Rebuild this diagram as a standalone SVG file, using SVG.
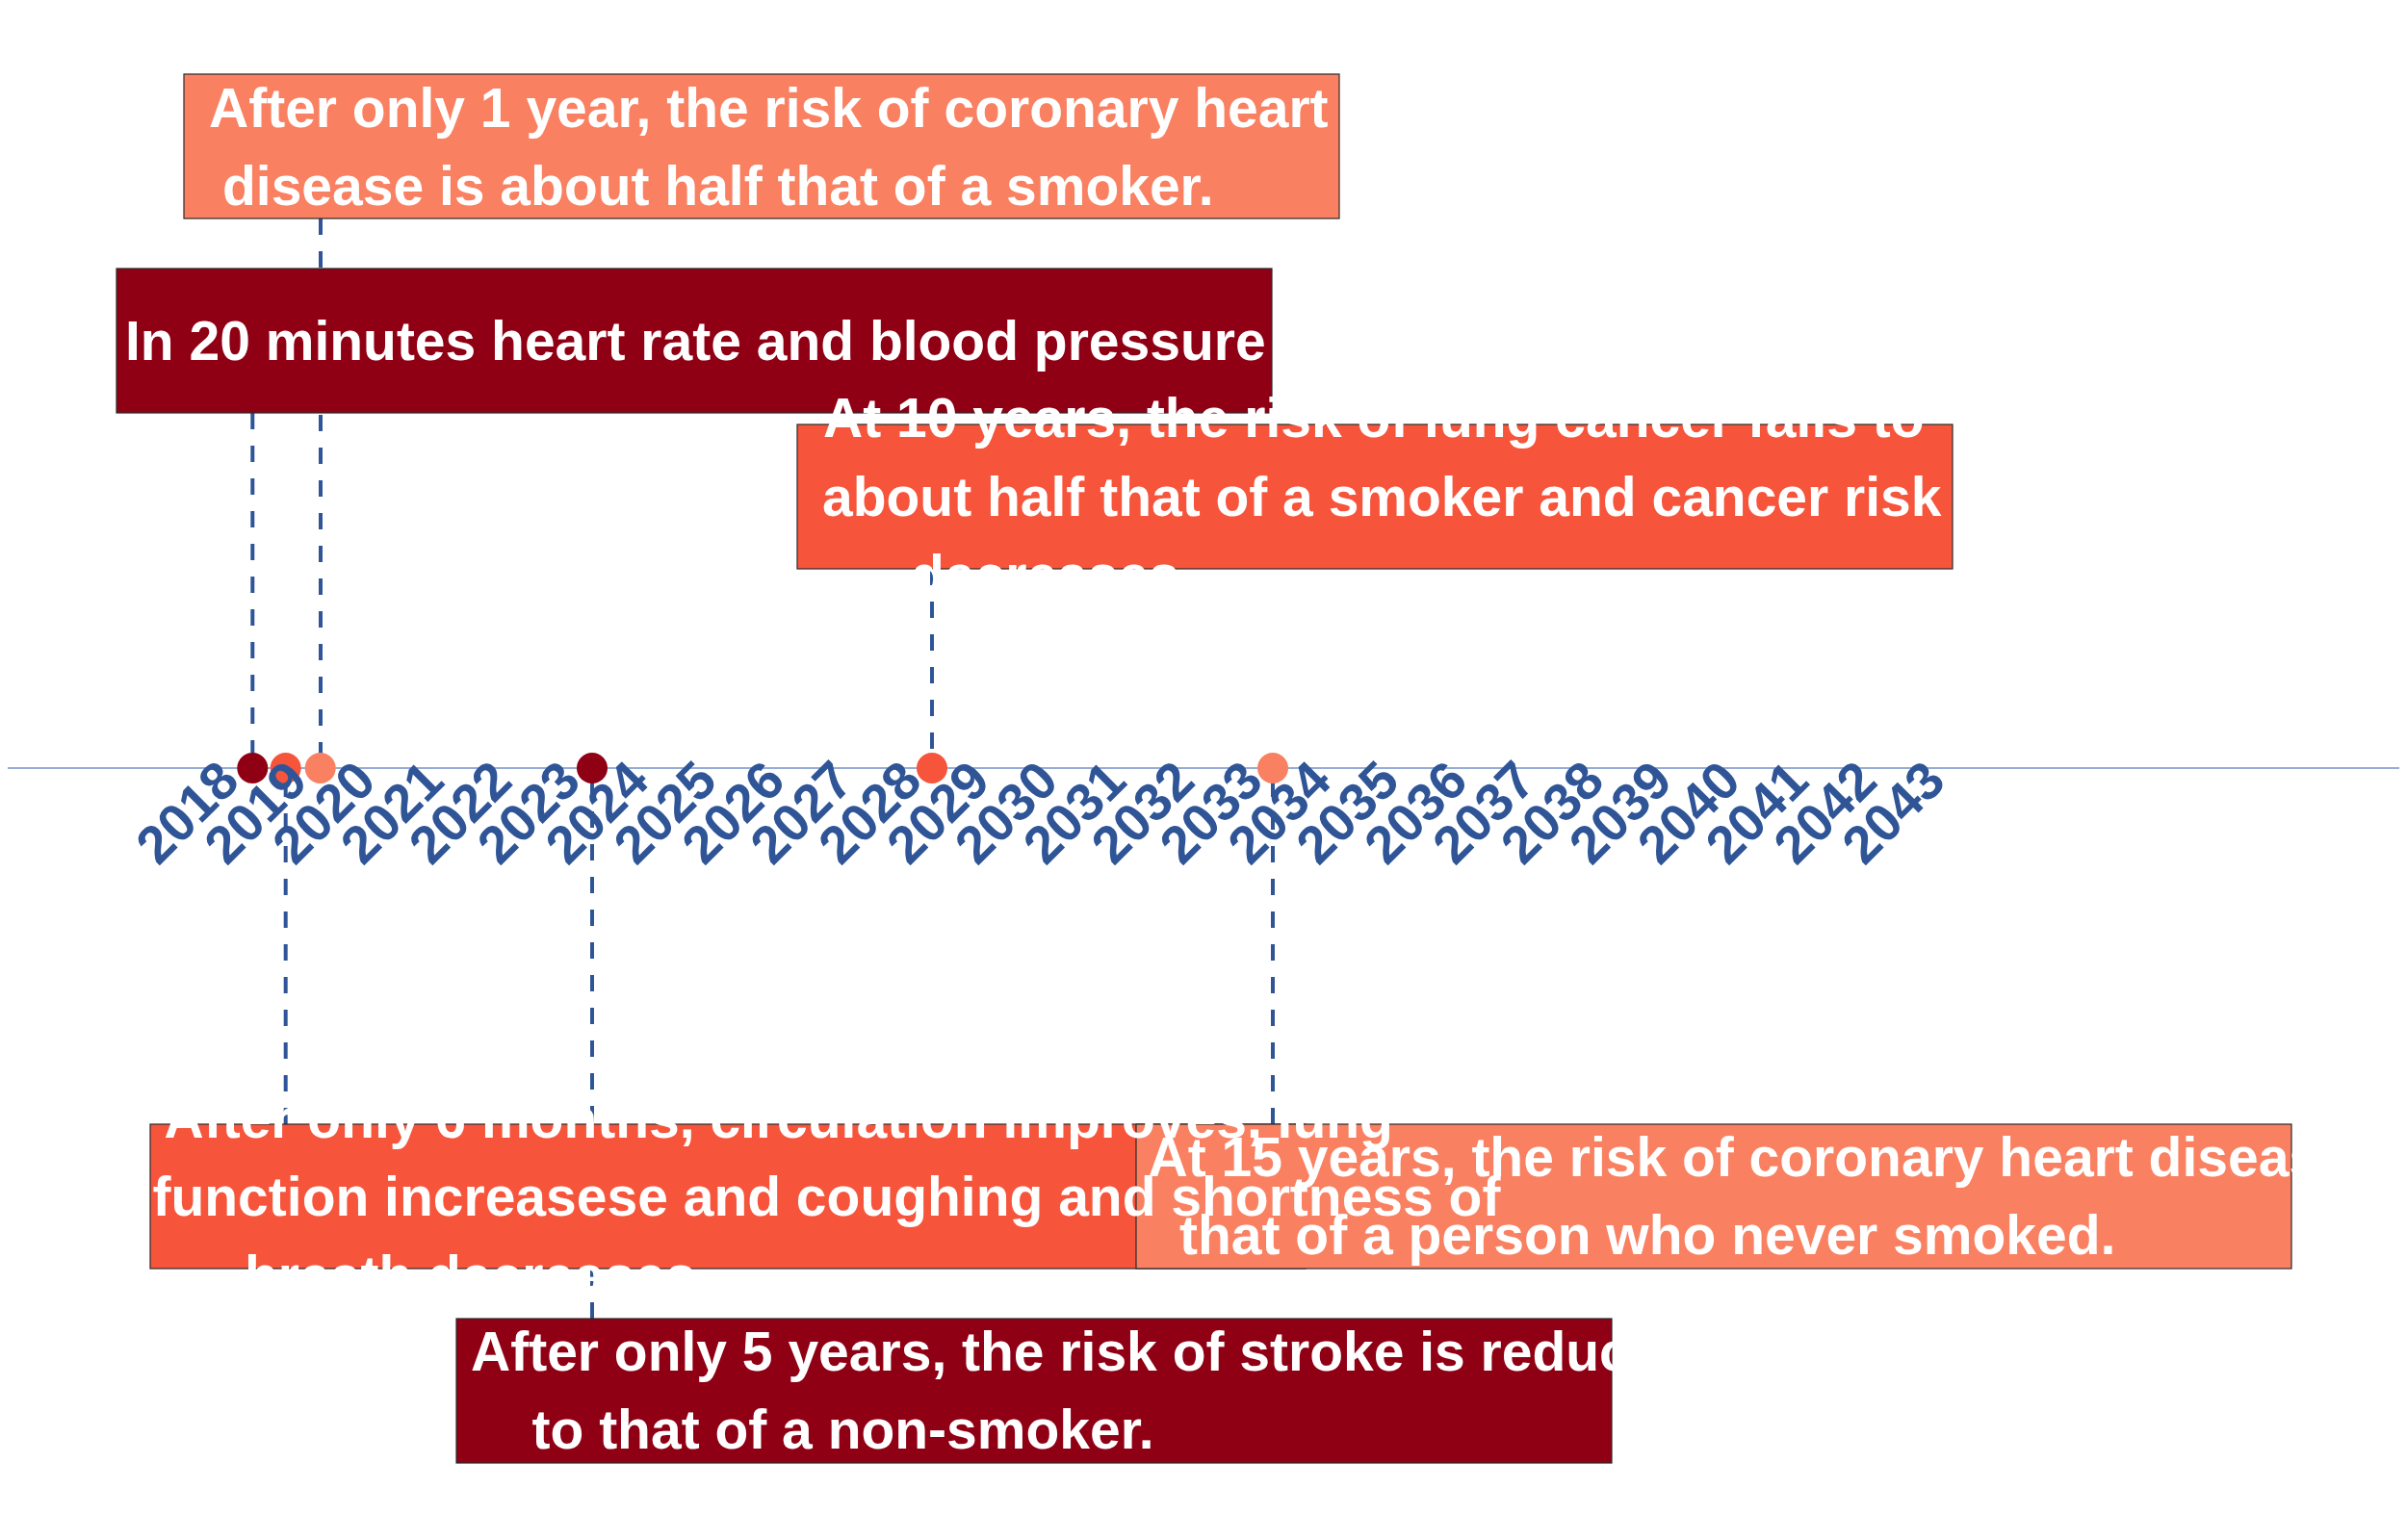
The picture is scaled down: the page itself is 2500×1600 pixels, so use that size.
<svg xmlns="http://www.w3.org/2000/svg" width="2500" height="1600" viewBox="0 0 2500 1600">
<style>
.box{stroke:#2a2a2a;stroke-width:1.2}
.dark{fill:#900014}
.orange{fill:#F6553C}
.salmon{fill:#F98162}
.conn{stroke:#2F5597;stroke-width:4;stroke-dasharray:17 17;fill:none}
.yr{font-family:"Liberation Sans",Arial,sans-serif;font-weight:bold;font-size:55px;fill:#2F5597;text-anchor:end}
.t{font-family:"Liberation Sans",Arial,sans-serif;font-weight:bold;font-size:57px;fill:#ffffff}
</style>
<rect width="2500" height="1600" fill="#ffffff"/>
<g id="connectors">
<path class="conn" d="M262.3,429 V798"/>
<path class="conn" d="M333,227 V798"/>
<path class="conn" d="M968,591 V798"/>
<path class="conn" d="M296.7,1168 V798"/>
<path class="conn" d="M615,1370 V798"/>
<path class="conn" d="M1322,1168 V798"/>
</g>
<g id="timeline">
<line x1="8" y1="798" x2="2492" y2="798" stroke="#7090C8" stroke-width="1.5"/>
</g>
<g id="node-1year"><rect class="box salmon" x="191" y="77" width="1200" height="150"/></g>
<g id="node-20min"><rect class="box dark" x="121" y="279" width="1200" height="150"/></g>
<g id="node-10years"><rect class="box orange" x="828" y="441" width="1200" height="150"/></g>
<g id="node-6months"><rect class="box orange" x="156" y="1168" width="1200" height="150"/></g>
<g id="node-15years"><rect class="box salmon" x="1180" y="1168" width="1200" height="150"/></g>
<g id="node-5years"><rect class="box dark" x="474" y="1370" width="1200" height="150"/></g>
<g id="dots">
<circle class="dark" cx="262.3" cy="798" r="16"/>
<circle class="orange" cx="296.7" cy="798" r="16"/>
<circle class="salmon" cx="332.7" cy="798" r="16"/>
<circle class="dark" cx="615" cy="798" r="16"/>
<circle class="orange" cx="968" cy="798" r="16"/>
<circle class="salmon" cx="1322" cy="798" r="16"/>
</g>
<g id="axis-labels">
<text class="yr" transform="translate(251,814) rotate(-45)">2018</text>
<text class="yr" transform="translate(321.9,814) rotate(-45)">2019</text>
<text class="yr" transform="translate(392.8,814) rotate(-45)">2020</text>
<text class="yr" transform="translate(463.6,814) rotate(-45)">2021</text>
<text class="yr" transform="translate(534.5,814) rotate(-45)">2022</text>
<text class="yr" transform="translate(605.4,814) rotate(-45)">2023</text>
<text class="yr" transform="translate(676.3,814) rotate(-45)">2024</text>
<text class="yr" transform="translate(747.2,814) rotate(-45)">2025</text>
<text class="yr" transform="translate(818,814) rotate(-45)">2026</text>
<text class="yr" transform="translate(888.9,814) rotate(-45)">2027</text>
<text class="yr" transform="translate(959.8,814) rotate(-45)">2028</text>
<text class="yr" transform="translate(1030.7,814) rotate(-45)">2029</text>
<text class="yr" transform="translate(1101.6,814) rotate(-45)">2030</text>
<text class="yr" transform="translate(1172.4,814) rotate(-45)">2031</text>
<text class="yr" transform="translate(1243.3,814) rotate(-45)">2032</text>
<text class="yr" transform="translate(1314.2,814) rotate(-45)">2033</text>
<text class="yr" transform="translate(1385.1,814) rotate(-45)">2034</text>
<text class="yr" transform="translate(1456,814) rotate(-45)">2035</text>
<text class="yr" transform="translate(1526.8,814) rotate(-45)">2036</text>
<text class="yr" transform="translate(1597.7,814) rotate(-45)">2037</text>
<text class="yr" transform="translate(1668.6,814) rotate(-45)">2038</text>
<text class="yr" transform="translate(1739.5,814) rotate(-45)">2039</text>
<text class="yr" transform="translate(1810.4,814) rotate(-45)">2040</text>
<text class="yr" transform="translate(1881.2,814) rotate(-45)">2041</text>
<text class="yr" transform="translate(1952.1,814) rotate(-45)">2042</text>
<text class="yr" transform="translate(2023,814) rotate(-45)">2043</text>
</g>
<g id="node-texts">
<g id="text-1year">
<text class="t" x="217" y="132">After only 1 year, the risk of coronary heart</text>
<text class="t" x="231" y="213">disease is about half that of a smoker.</text>
</g>
<g id="text-20min">
<text class="t" x="130" y="374">In 20 minutes heart rate and blood pressure</text>
</g>
<g id="text-10years">
<text class="t" x="855" y="454">At 10 years, the risk of lung cancer falls to</text>
<text class="t" x="854" y="536">about half that of a smoker and cancer risk</text>
<text class="t" x="946" y="617">decreases</text>
</g>
<g id="text-6months">
<text class="t" x="170.5" y="1182">After only 6 months, circulation improves, lung</text>
<text class="t" x="158.5" y="1263">function increasese and coughing and shortness of</text>
<text class="t" x="254" y="1345">breath decreases</text>
</g>
<g id="text-15years">
<text class="t" x="1192.5" y="1222">At 15 years, the risk of coronary heart diseas</text>
<text class="t" x="1225" y="1303">that of a person who never smoked.</text>
</g>
<g id="text-5years">
<text class="t" x="489" y="1424">After only 5 years, the risk of stroke is reduc</text>
<text class="t" x="552.5" y="1505">to that of a non-smoker.</text>
</g>
</g>
</svg>
